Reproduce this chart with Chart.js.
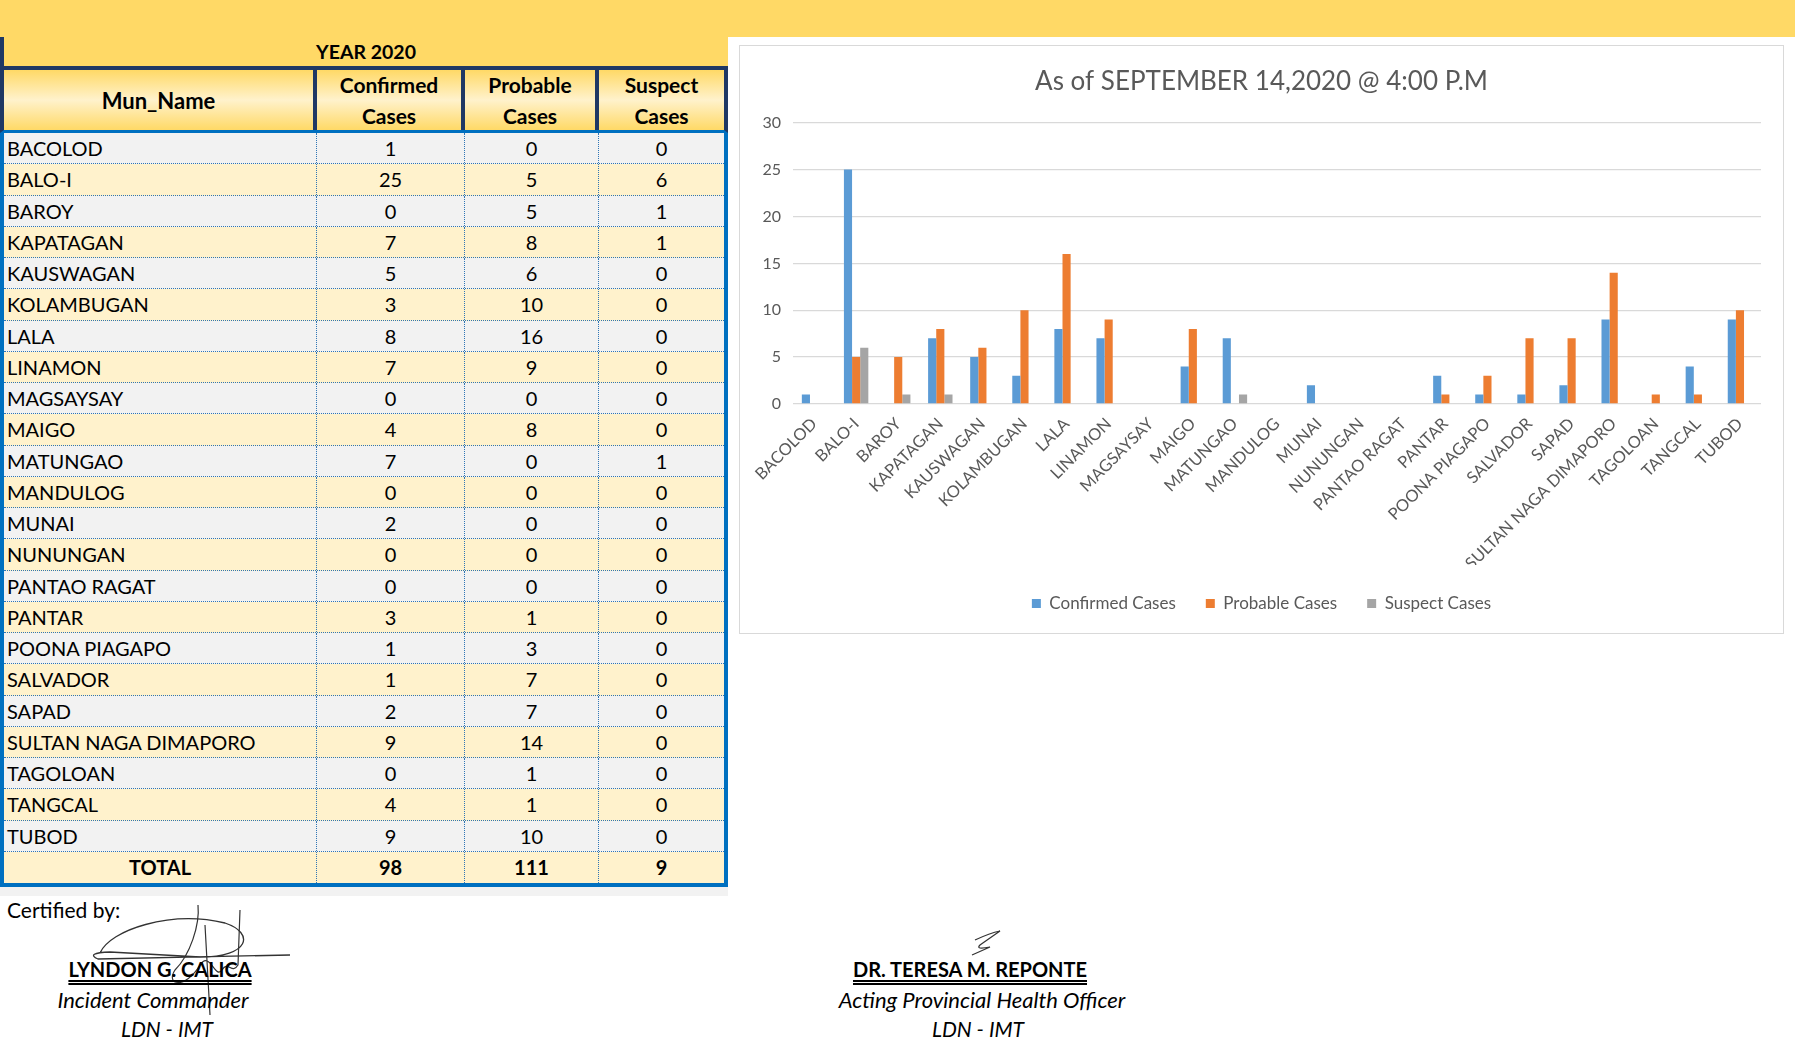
<!DOCTYPE html>
<html><head><meta charset="utf-8">
<script src="https://cdn.jsdelivr.net/npm/chart.js@4.4.1/dist/chart.umd.min.js"></script>
<style>
html,body{margin:0;padding:0;background:#fff;}
body{width:1795px;height:1046px;position:relative;overflow:hidden;font-family:Lato,"Open Sans",sans-serif;color:#000;}
.abs{position:absolute;}
#band{left:0;top:0;width:1795px;height:37px;background:#FFD966;}
#yearCell{left:0;top:37px;width:728px;height:29px;background:#FFD966;border-left:4px solid #1F3864;box-sizing:border-box;text-align:center;font-weight:bold;font-size:19.5px;line-height:30px;}
#tbl{left:0;top:66px;width:728px;}
.hdr{display:flex;height:67px;box-sizing:border-box;border:4px solid #1F3864;border-bottom:3px solid #0070C0;background:linear-gradient(to bottom,#FFD966 0%,#FFF2CC 50%,#FFD966 100%);}
.hdr div{display:flex;align-items:center;justify-content:center;text-align:center;font-weight:bold;font-size:21px;line-height:31px;box-sizing:border-box;border-right:4px solid #1F3864;}
.hdr div.w0{font-size:22px;}
.hdr div:last-child{border-right:none;}
.w0{width:313px;flex:none}.w1{width:148px;flex:none}.w2{width:134px;flex:none}.w3{flex:1}
.tb{border:4px solid #0070C0;border-top:none;box-sizing:border-box;}
.row{display:flex;height:31.25px;box-sizing:border-box;border-bottom:1px dotted #2E75B6;font-size:20px;line-height:31px;}
.row:last-child{border-bottom:none;}
.row div{box-sizing:border-box;border-right:1px dotted #2E75B6;text-align:center;white-space:nowrap;}
.row div:last-child{border-right:none;}
.row div.nm{text-align:left;padding-left:3px;}
.row.total div{font-weight:bold;}
.row.total div.nm{text-align:center;padding-left:0;}
#under{left:0;top:887px;width:728px;height:9px;background:#F2F2F2;}
#chartBox{left:739px;top:45px;width:1045px;height:589px;border:1px solid #D9D9D9;box-sizing:border-box;background:#fff;}
#chartBox canvas{position:absolute;left:0;top:0;}
.txt{position:absolute;font-size:20px;white-space:nowrap;}
.sig{font-weight:bold;text-decoration:underline double;text-underline-offset:3px;transform:translateX(-50%);}
.role{font-style:italic;font-size:22px;transform:translateX(-50%);}
</style>
</head><body>
<div id="band" class="abs"></div>
<div id="yearCell" class="abs">YEAR 2020</div>
<div id="tbl" class="abs">
  <div class="hdr" id="hdr"></div>
  <div class="tb" id="tb"></div>
</div>
<div id="under" class="abs"></div>
<div id="chartBox" class="abs"><canvas id="c" width="1043" height="587"></canvas></div>

<div class="txt" style="left:7px;top:897px;font-size:21px;">Certified by:</div>
<svg class="abs" style="left:0;top:895px" width="1200" height="151">
  <path d="M 100 58 C 110 35, 170 15, 225 28 C 255 38, 250 62, 200 62 L 110 57 Q 85 58 98 64 L 290 60" fill="none" stroke="#333" stroke-width="1.3"/>
  <path d="M 198 10 C 200 30, 190 60, 175 75 C 165 90, 185 95, 200 70 C 210 55, 215 85, 222 75 C 228 65, 232 80, 238 70 L 240 15 M 205 30 L 210 120" fill="none" stroke="#333" stroke-width="1.2"/>
  <path d="M 975 45 Q 990 38 1000 36 L 980 50 Q 975 55 990 52 L 972 60" fill="none" stroke="#333" stroke-width="1.2"/>
</svg>
<div class="txt sig" style="left:160px;top:957px;">LYNDON G. CALICA</div>
<div class="txt role" style="left:153px;top:986px;">Incident Commander</div>
<div class="txt role" style="left:167px;top:1016px;font-size:21px;">LDN - IMT</div>
<div class="txt sig" style="left:970px;top:957px;">DR. TERESA M. REPONTE</div>
<div class="txt role" style="left:982px;top:986px;">Acting Provincial Health Officer</div>
<div class="txt role" style="left:978px;top:1016px;font-size:21px;">LDN - IMT</div>

<script>
// ---- data ----
const municipalities = ["BACOLOD","BALO-I","BAROY","KAPATAGAN","KAUSWAGAN","KOLAMBUGAN","LALA","LINAMON","MAGSAYSAY","MAIGO","MATUNGAO","MANDULOG","MUNAI","NUNUNGAN","PANTAO RAGAT","PANTAR","POONA PIAGAPO","SALVADOR","SAPAD","SULTAN NAGA DIMAPORO","TAGOLOAN","TANGCAL","TUBOD"];
const confirmedCases = [1,25,0,7,5,3,8,7,0,4,7,0,2,0,0,3,1,1,2,9,0,4,9];
const probableCases  = [0,5,5,8,6,10,16,9,0,8,0,0,0,0,0,1,3,7,7,14,1,1,10];
const suspectCases   = [0,6,1,1,0,0,0,0,0,0,1,0,0,0,0,0,0,0,0,0,0,0,0];
const totals = ["98","111","9"];
const headers = ["Mun_Name","Confirmed<br>Cases","Probable<br>Cases","Suspect<br>Cases"];
const seriesNames = ["Confirmed Cases","Probable Cases","Suspect Cases"];
const chartTitle = "As of SEPTEMBER 14,2020 @ 4:00 P.M";
const yMin = 0, yMax = 30, yStep = 5;

// ---- table ----
const hdr = document.getElementById('hdr');
headers.forEach((h,i)=>{const d=document.createElement('div');d.className='w'+i;d.innerHTML=h;hdr.appendChild(d);});
const tb = document.getElementById('tb');
function addRow(cells, cls, bg){
  const r=document.createElement('div');r.className='row '+cls;r.style.background=bg;
  cells.forEach((v,i)=>{const d=document.createElement('div');d.className='w'+i+(i===0?' nm':'');d.textContent=v;r.appendChild(d);});
  tb.appendChild(r);
}
municipalities.forEach((m,i)=>addRow([m,confirmedCases[i],probableCases[i],suspectCases[i]],'',i%2===0?'#F2F2F2':'#FFF2CC'));
addRow(['TOTAL'].concat(totals),'total','#FFF2CC');

// ---- chart ----
function draw(){
  Chart.defaults.font.family = 'Lato, "Open Sans", sans-serif';
  Chart.defaults.color = '#595959';
  new Chart(document.getElementById('c'), {
    type:'bar',
    data:{
      labels: municipalities,
      datasets:[
        {label:seriesNames[0], data:confirmedCases, backgroundColor:'#5B9BD5'},
        {label:seriesNames[1], data:probableCases, backgroundColor:'#ED7D31'},
        {label:seriesNames[2], data:suspectCases, backgroundColor:'#A5A5A5'}
      ]
    },
    options:{
      responsive:false, animation:false,
      datasets:{bar:{barPercentage:1.0, categoryPercentage:0.58}},
      layout:{padding:{top:0,right:22,bottom:11,left:22}},
      plugins:{
        title:{display:true,text:chartTitle,color:'#595959',font:{size:26,weight:'normal'},padding:{top:20,bottom:25.5}},
        legend:{position:'bottom',labels:{boxWidth:9,boxHeight:9,font:{size:17},color:'#595959',padding:30}},
        tooltip:{enabled:false}
      },
      scales:{
        x:{
          grid:{display:false,drawTicks:false},
          border:{display:false},
          ticks:{autoSkip:false,maxRotation:45,minRotation:45,font:{size:16.5},color:'#595959',padding:10},
          afterFit:(s)=>{s.height=161;}
        },
        y:{
          min:yMin,max:yMax,
          ticks:{stepSize:yStep,font:{size:16},color:'#595959',padding:12},
          grid:{color:'#D9D9D9',drawTicks:false,lineWidth:1.3},
          border:{display:false},
          afterFit:(s)=>{s.width=31;}
        }
      }
    }
  });
}
if (document.fonts && document.fonts.load) {
  Promise.all([document.fonts.load('16px Lato'),document.fonts.load('bold 19px Lato')]).then(draw, draw);
} else draw();
</script>
</body></html>
